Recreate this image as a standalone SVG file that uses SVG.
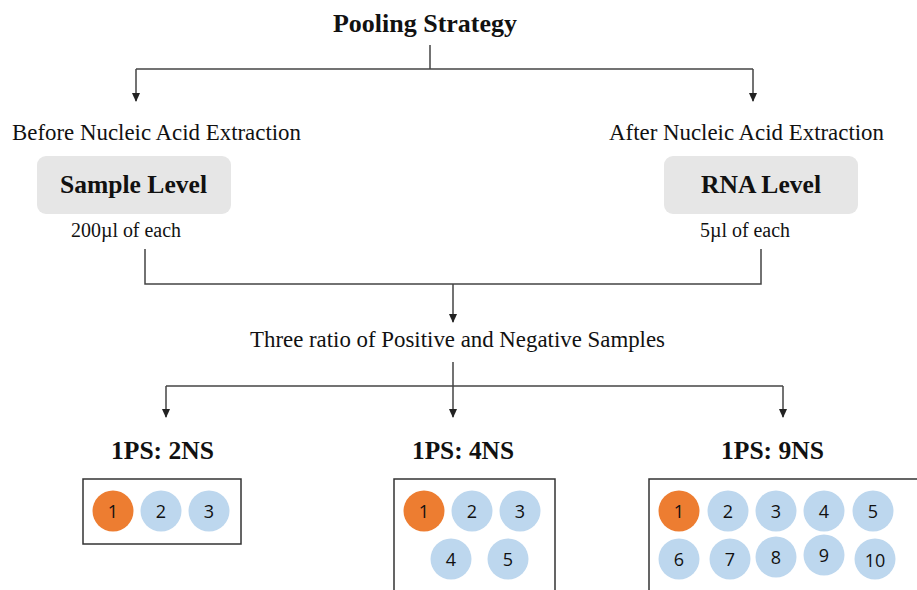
<svg xmlns="http://www.w3.org/2000/svg" width="917" height="590" viewBox="0 0 917 590">
<defs>
<marker id="ah" markerWidth="8" markerHeight="9" refX="4" refY="8" orient="0" markerUnits="userSpaceOnUse">
<path d="M0,0 L8,0 L4,9 Z" fill="#222"/>
</marker>
<style>
.ser{font-family:"Liberation Serif","Times New Roman",serif;fill:#111}
.b{font-weight:bold}
.ln{fill:none;stroke:#444;stroke-width:1.5}
.lvl{fill:#e6e6e6}
.box{fill:none;stroke:#333;stroke-width:1.5}
.pos{fill:#ed7d31}
.neg{fill:#bdd7ee}
.num{font-family:"Open Sans","Noto Sans",sans-serif;font-size:18px;fill:#111;text-anchor:middle}
</style>
</defs>
<rect width="917" height="590" fill="#fff"/>
<g id="title"><text class="ser b" x="333" y="32" font-size="26" textLength="184" lengthAdjust="spacingAndGlyphs">Pooling Strategy</text></g>
<g id="connectors">
<path class="ln" d="M430,45 V69"/>
<path class="ln" d="M136,69 H753"/>
<path class="ln" d="M136,69 V101" marker-end="url(#ah)"/>
<path class="ln" d="M753,69 V101" marker-end="url(#ah)"/>
<path class="ln" d="M145,249 V284 H761 V249"/>
<path class="ln" d="M453,284 V322" marker-end="url(#ah)"/>
<path class="ln" d="M453,362 V417" marker-end="url(#ah)"/>
<path class="ln" d="M166,386 H783"/>
<path class="ln" d="M166,386 V417" marker-end="url(#ah)"/>
<path class="ln" d="M783,386 V417" marker-end="url(#ah)"/>
</g>
<g id="before"><text class="ser" x="12" y="140" font-size="23" textLength="289" lengthAdjust="spacingAndGlyphs">Before Nucleic Acid Extraction</text></g>
<g id="after"><text class="ser" x="609" y="140" font-size="23" textLength="275" lengthAdjust="spacingAndGlyphs">After Nucleic Acid Extraction</text></g>
<g id="sample-level">
<rect class="lvl" x="37" y="156" width="194" height="58" rx="9"/>
<text class="ser b" x="60" y="193" font-size="25" textLength="147" lengthAdjust="spacingAndGlyphs">Sample Level</text>
<text class="ser" x="71" y="237" font-size="20" textLength="110" lengthAdjust="spacingAndGlyphs">200µl of each</text>
</g>
<g id="rna-level">
<rect class="lvl" x="664" y="156" width="194" height="58" rx="9"/>
<text class="ser b" x="701" y="193" font-size="25" textLength="120" lengthAdjust="spacingAndGlyphs">RNA Level</text>
<text class="ser" x="700" y="237" font-size="20" textLength="90" lengthAdjust="spacingAndGlyphs">5µl of each</text>
</g>
<g id="ratio"><text class="ser" x="250" y="347" font-size="23.5" textLength="415" lengthAdjust="spacingAndGlyphs">Three ratio of Positive and Negative Samples</text></g>
<g id="r2">
<text class="ser b" x="111" y="459" font-size="25" textLength="103" lengthAdjust="spacingAndGlyphs">1PS: 2NS</text>
<rect class="box" x="83" y="479" width="158" height="65"/>
<circle class="pos" cx="113" cy="511" r="20.5"/><text class="num" x="113" y="518">1</text>
<circle class="neg" cx="161" cy="511" r="20.5"/><text class="num" x="161" y="518">2</text>
<circle class="neg" cx="209" cy="511" r="20.5"/><text class="num" x="209" y="518">3</text>
</g>
<g id="r4">
<text class="ser b" x="412" y="459" font-size="25" textLength="102" lengthAdjust="spacingAndGlyphs">1PS: 4NS</text>
<path class="box" d="M394,592 V479 H555 V592"/>
<circle class="pos" cx="424" cy="511" r="20.5"/><text class="num" x="424" y="518">1</text>
<circle class="neg" cx="472" cy="511" r="20.5"/><text class="num" x="472" y="518">2</text>
<circle class="neg" cx="520" cy="511" r="20.5"/><text class="num" x="520" y="518">3</text>
<circle class="neg" cx="451" cy="559" r="20.5"/><text class="num" x="451" y="566">4</text>
<circle class="neg" cx="508" cy="559" r="20.5"/><text class="num" x="508" y="566">5</text>
</g>
<g id="r9">
<text class="ser b" x="721" y="459" font-size="25" textLength="103" lengthAdjust="spacingAndGlyphs">1PS: 9NS</text>
<path class="box" d="M649,592 V479 H920"/>
<circle class="pos" cx="679" cy="511" r="20.5"/><text class="num" x="679" y="518">1</text>
<circle class="neg" cx="728" cy="511" r="20.5"/><text class="num" x="728" y="518">2</text>
<circle class="neg" cx="776" cy="511" r="20.5"/><text class="num" x="776" y="518">3</text>
<circle class="neg" cx="824" cy="511" r="20.5"/><text class="num" x="824" y="518">4</text>
<circle class="neg" cx="873" cy="511" r="20.5"/><text class="num" x="873" y="518">5</text>
<circle class="neg" cx="679" cy="559" r="20.5"/><text class="num" x="679" y="566">6</text>
<circle class="neg" cx="730" cy="559" r="20.5"/><text class="num" x="730" y="566">7</text>
<circle class="neg" cx="776" cy="557" r="20.5"/><text class="num" x="776" y="564">8</text>
<circle class="neg" cx="824" cy="555" r="20.5"/><text class="num" x="824" y="562">9</text>
<circle class="neg" cx="875" cy="559" r="20.5"/><text class="num" x="875" y="567">10</text>
</g>
</svg>
